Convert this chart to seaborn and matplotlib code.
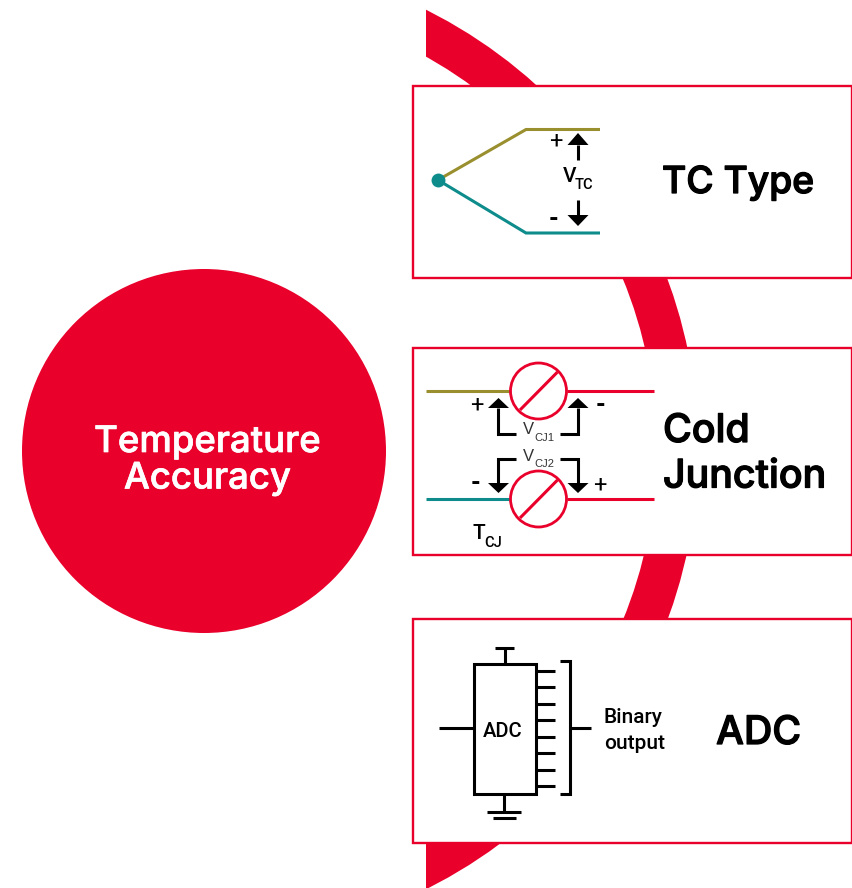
import matplotlib
matplotlib.use("Agg")
import matplotlib.pyplot as plt
import matplotlib.patheffects as pe
import seaborn as sns
from matplotlib.patches import Circle, Rectangle, Wedge

RED = "#E9002B"
OLIVE = "#9A8F2E"
TEAL = "#0E8C8C"
BLACK = "#000000"
HEAD = "Inter"
SMALL = "Roboto"

# panels as left, top, bottom
panel_left = [413, 413, 413]
panel_top = [86, 348, 619]
panel_bottom = [278, 555, 843]

# thermocouple wires
tc_olive_x = [438, 526, 600]
tc_olive_y = [180, 129.5, 129.5]
tc_teal_x = [438, 526, 600]
tc_teal_y = [180, 233, 233]

# cold junction circles
cj_x = [538.5, 538.5]
cj_y = [391, 499]

# adc output pins
pin_y = [671, 687.3, 704, 720.3, 737, 753.3, 769.7, 786.3]

sns.set_theme(style="white")
fig = plt.figure(figsize=(8.53, 8.88), dpi=100)
ax = fig.add_axes([0, 0, 1, 1])
ax.set_xlim(0, 853)
ax.set_ylim(888, 0)
ax.set_axis_off()


def wire(xs, ys, color=BLACK, width=2.2, z=5):
    sns.lineplot(x=xs, y=ys, ax=ax, color=color, linewidth=width, sort=False, estimator=None,
                 solid_capstyle="butt", solid_joinstyle="miter", zorder=z)


def head(x, tip, base, half=10.5):
    ax.fill([x - half, x + half, x], [base, base, tip], color=BLACK, lw=0, zorder=6)


def label(x, y, s, size, weight="medium", family=SMALL, color=BLACK, ha="left", va="baseline"):
    return ax.text(x, y, s, family=family, fontsize=size, weight=weight, color=color, ha=ha, va=va, zorder=7)


def title(x, y, s, size, color=BLACK, ha="left", stroke=0.9):
    # only one Inter weight is available, so thicken the outline a bit
    t = label(x, y, s, size, family=HEAD, color=color, ha=ha)
    t.set_path_effects([pe.withStroke(linewidth=stroke, foreground=color)])


# ring behind the panels, cut off on the left
ring = Wedge((206.5, 449.5), 491.5, -90, 90, width=41.5, color=RED, lw=0, zorder=1)
ax.add_patch(ring)
ring.set_clip_path(Rectangle((426, 0), 427, 888, transform=ax.transData))

ax.add_patch(Circle((204, 451), 182, color=RED, lw=0, zorder=2))
title(207.5, 452, "Temperature", 26.3, color="white", ha="center", stroke=0.5)
title(207.5, 488.5, "Accuracy", 26.3, color="white", ha="center", stroke=0.5)

for left, top, bottom in zip(panel_left, panel_top, panel_bottom):
    ax.add_patch(Rectangle((left, top), 852 - left, bottom - top, fc="white", ec=RED, lw=1.7, zorder=3))

# TC type panel
wire(tc_olive_x, tc_olive_y, OLIVE)
wire(tc_teal_x, tc_teal_y, TEAL)
sns.scatterplot(x=[438], y=[180], ax=ax, color=TEAL, s=100, linewidth=0, zorder=6)
wire([578, 578], [145, 160])
head(578, 133, 145)
wire([578, 578], [200, 215])
head(578, 226, 215)
label(556, 141, "+", 17, weight="normal", ha="center", va="center")
label(554, 219, "-", 18, weight="bold", ha="center", va="center")
label(563, 182, "V", 15)
label(575, 189, "TC", 10.5)
title(662, 193, "TC Type", 26.8)

# cold junction panel
wire([426, 510], [cj_y[0], cj_y[0]], OLIVE)
wire([426, 510], [cj_y[1], cj_y[1]], TEAL)
for y in cj_y:
    wire([567, 654], [y, y], RED)
    ax.add_patch(Circle((cj_x[0], y), 28, fc="white", ec=RED, lw=2, zorder=5))
    wire([520, 557.5], [y + 19, y - 19], RED, z=6)
wire([516, 498.5, 498.5], [434, 434, 408])
head(498.5, 398, 408)
wire([560, 578, 578], [434, 434, 408])
head(578, 398, 408)
wire([516, 498.5, 498.5], [459, 459, 483])
head(498.5, 493, 483)
wire([560, 578, 578], [459, 459, 483])
head(578, 493, 483)
label(477, 405, "+", 17, weight="normal", ha="center", va="center")
label(601, 405, "-", 18, weight="bold", ha="center", va="center")
label(476, 483, "-", 18, weight="bold", ha="center", va="center")
label(600, 485, "+", 17, weight="normal", ha="center", va="center")
label(523, 434, "V", 12, weight="normal", family="Liberation Sans", color="#333333")
label(534, 441, "CJ1", 8, weight="normal", family="Liberation Sans", color="#333333")
label(523, 460.5, "V", 12, weight="normal", family="Liberation Sans", color="#333333")
label(534, 467, "CJ2", 8, weight="normal", family="Liberation Sans", color="#333333")
label(473, 539, "T", 15)
label(484, 547, "CJ", 10.5)
title(663, 442, "Cold", 28.3)
title(663, 487.5, "Junction", 28.3)

# adc panel
ax.add_patch(Rectangle((474, 664), 62, 130, fc="white", ec=BLACK, lw=2.2, zorder=5))
wire([505, 505], [648, 664])
wire([495, 514], [648, 648])
wire([504, 504], [794, 812])
wire([487, 521], [812, 812])
wire([493, 516], [818, 818])
wire([439, 474], [728, 728])
for y in pin_y:
    wire([536, 555], [y, y])
wire([560, 570, 570, 560], [661, 661, 794, 794])
wire([570, 591], [728, 728])
label(503, 731, "ADC", 14.5, ha="center", va="center")
label(604, 723, "Binary", 15)
label(604, 749, "output", 15)
title(758.5, 744, "ADC", 28.3, ha="center")

fig.savefig("out.png", dpi=100)
